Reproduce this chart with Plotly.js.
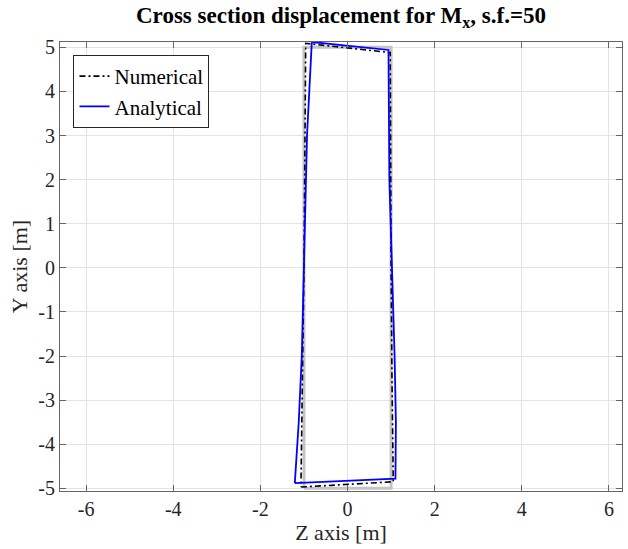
<!DOCTYPE html>
<html>
<head>
<meta charset="utf-8">
<script src="https://cdn.plot.ly/plotly-3.0.1.min.js"></script>
<style>html,body{margin:0;padding:0;background:#fff;}#chart{width:628px;height:549px;}</style>
</head>
<body>
<div id="chart"></div>
<script>
// Undeformed cross section
const undeformedZ = [-1, 1, 1, -1, -1];
const undeformedY = [-5, -5, 5, 5, -5];
// Numerical deformed section
const numericalZ = [-1.07, 1.05, 1.02, 1.00, 0.98, -0.96, -1.00, -1.07];
const numericalY = [-4.97, -4.85, -2.5, 0.0, 4.88, 5.09, 0.0, -4.97];
// Analytical deformed section
const analyticalZ = [-1.21, 1.10, 1.11, 1.08, 1.02, 0.96, 0.94, -0.82, -0.93, -1.01, -1.05, -1.12, -1.17, -1.21];
const analyticalY = [-4.88, -4.78, -3.5, -2.0, 0.0, 2.0, 4.94, 5.12, 3.0, 0.0, -2.0, -3.5, -4.3, -4.88];
const xTicks = [-6, -4, -2, 0, 2, 4, 6];
const yTicks = [-5, -4, -3, -2, -1, 0, 1, 2, 3, 4, 5];

const serif = "Liberation Serif";
const traces = [
  {x: undeformedZ, y: undeformedY, mode: 'lines', showlegend: false, hoverinfo: 'skip',
   line: {color: '#c4c4c4', width: 3}},
  {x: numericalZ, y: numericalY, mode: 'lines', name: 'Numerical',
   line: {color: '#000000', width: 1.6, dash: '6px,3px,2px,3px'}},
  {x: analyticalZ, y: analyticalY, mode: 'lines', name: 'Analytical',
   line: {color: '#0000ff', width: 1.8}}
];
function axisBase() {
  return {
    showgrid: true, gridcolor: '#e3e3e3', gridwidth: 1,
    zeroline: false, showline: true, linecolor: '#666666', linewidth: 1, mirror: 'ticks',
    ticks: 'inside', ticklen: 6, tickcolor: '#666666', tickwidth: 1,
    tickfont: {family: serif, size: 20, color: '#262626'}
  };
}
const layout = {
  width: 628, height: 549,
  margin: {l: 60, r: 6, t: 42, b: 58},
  paper_bgcolor: '#ffffff', plot_bgcolor: '#ffffff',
  title: {text: 'Cross section displacement for M<sub>x</sub>, s.f.=50', xref: 'paper', x: 0.5, y: 0.988, yanchor: 'top',
    font: {family: serif, size: 23, color: '#000000', weight: 'bold'}},
  xaxis: Object.assign(axisBase(), {range: [-6.6, 6.3], tickvals: xTicks, ticktext: xTicks.map(String),
    title: {text: 'Z axis [m]', font: {family: serif, size: 22, color: '#262626'}, standoff: 0}}),
  yaxis: Object.assign(axisBase(), {range: [-5.06, 5.12], tickvals: yTicks, ticktext: yTicks.map(String),
    title: {text: 'Y axis [m]', font: {family: serif, size: 22, color: '#262626'}, standoff: 4}}),
  legend: {x: 0.024, y: 0.971, xanchor: 'left', yanchor: 'top', bgcolor: '#ffffff',
    bordercolor: '#262626', borderwidth: 1, font: {family: serif, size: 21, color: '#000000'},
    tracegroupgap: 0},
  showlegend: true
};
Plotly.newPlot('chart', traces, layout, {staticPlot: true, displayModeBar: false});
</script>
</body>
</html>
